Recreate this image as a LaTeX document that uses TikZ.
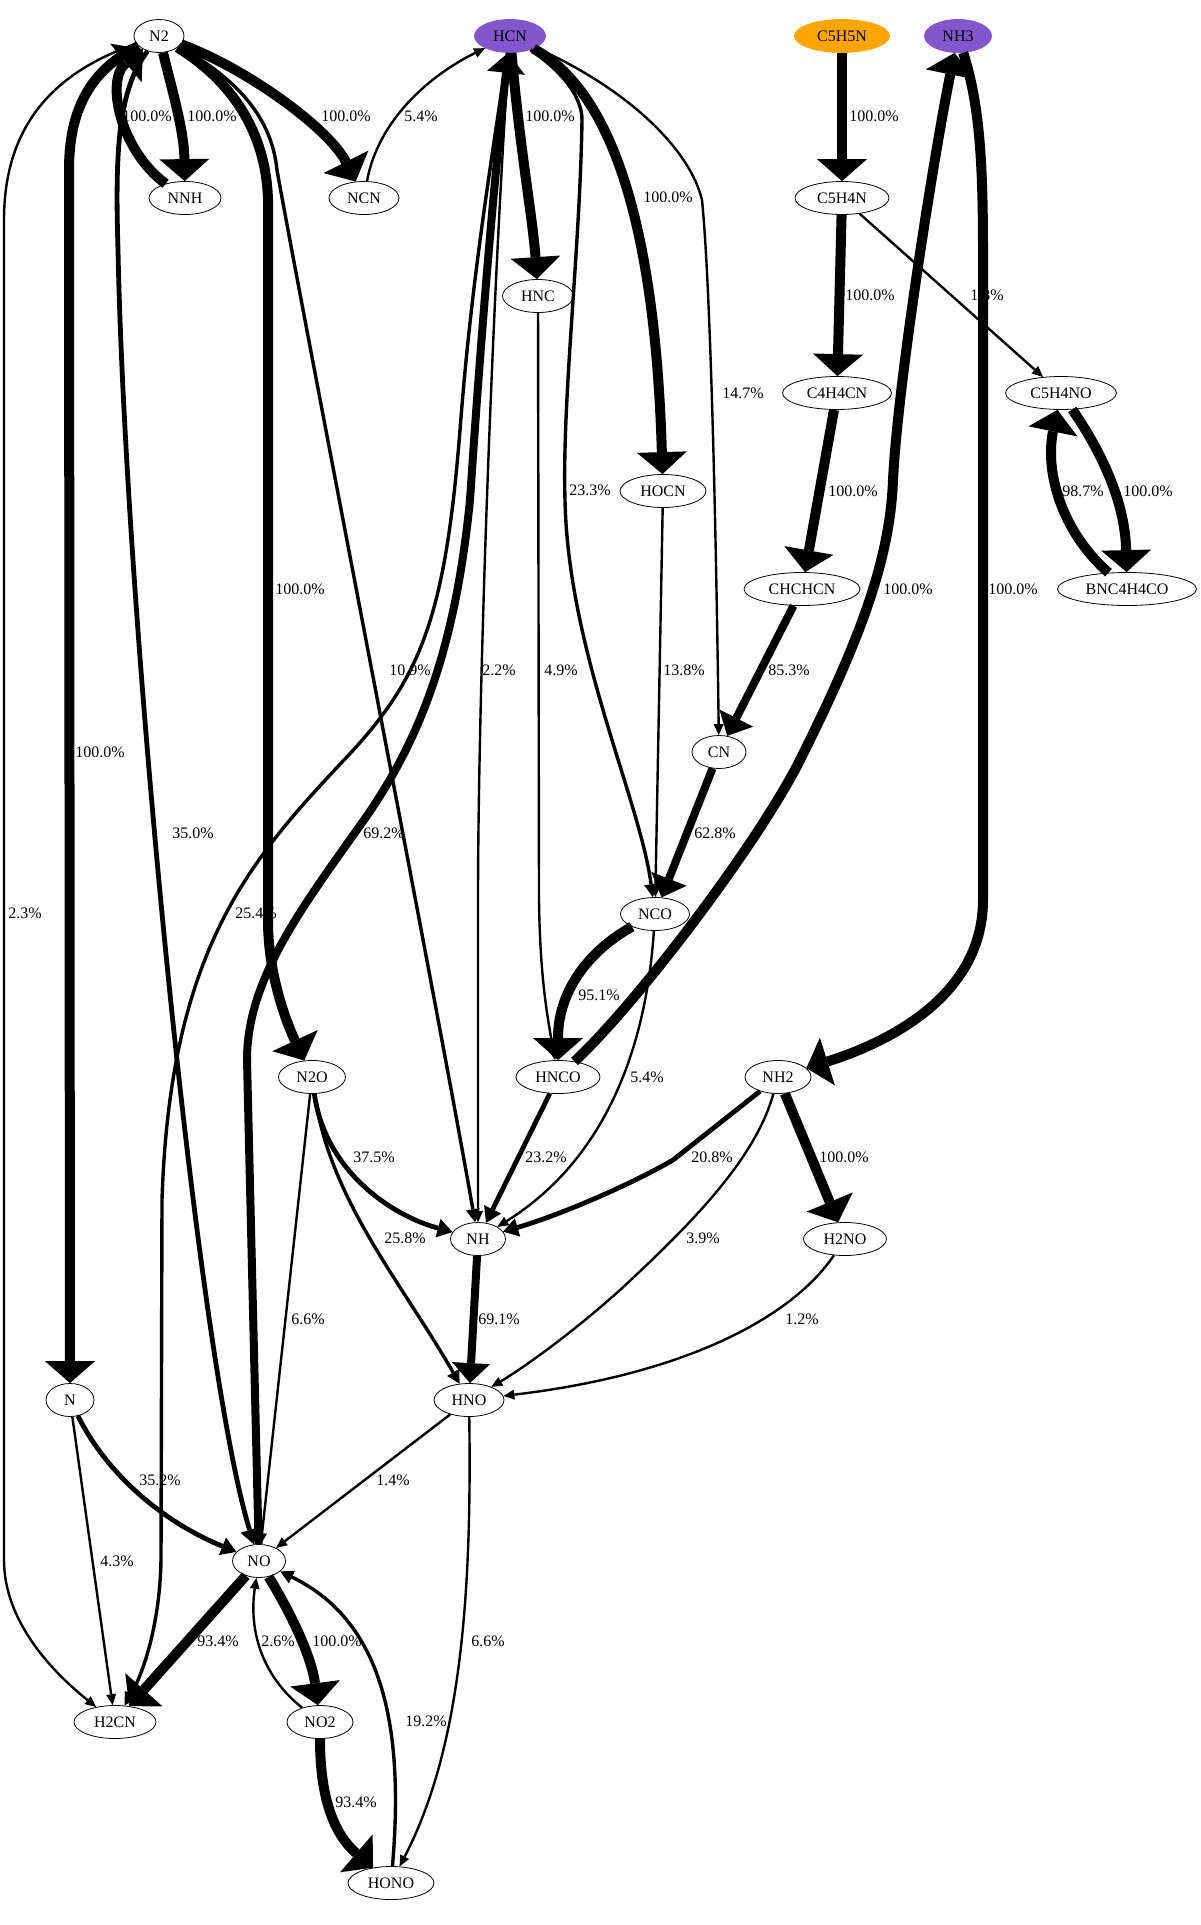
\documentclass[tikz,border=0pt]{standalone}
\usepackage{fontspec}
\setmainfont{Liberation Serif}
\usetikzlibrary{arrows.meta,shapes.geometric}
\definecolor{hpurple}{RGB}{131,86,204}
\definecolor{horange}{RGB}{255,165,0}
\begin{document}
\begin{tikzpicture}[x=1pt,y=-1pt,
  sp/.style={ellipse, draw, line width=0.8pt, inner sep=0pt, minimum height=33pt, font=\fontsize{16}{18}\selectfont},
  lab/.style={inner sep=0pt, font=\fontsize{16}{18}\selectfont},
  wA/.style={line width=2.4pt, -{Triangle[length=11pt,width=10pt,line width=0pt]}},
  wB/.style={line width=3.4pt, -{Triangle[length=13pt,width=14pt,line width=0pt]}},
  wC/.style={line width=4.8pt, -{Triangle[length=15pt,width=19pt,line width=0pt]}},
  wD/.style={line width=8pt, -{Triangle[length=20pt,width=38pt,line width=0pt]}},
  wE/.style={line width=10pt, -{Triangle[length=22pt,width=50pt,line width=0pt]}}
]
\useasboundingbox (0,0) rectangle (1200,1925);
% nodes
\node[sp, minimum width=50pt] (N2) at (159,36) {N2};
\node[sp, fill=hpurple, draw=hpurple, minimum width=71pt] (HCN) at (510,36) {HCN};
\node[sp, fill=horange, draw=horange, minimum width=95pt] (C5H5N) at (842,36) {C5H5N};
\node[sp, fill=hpurple, draw=hpurple, minimum width=67pt] (NH3) at (958,36) {NH3};
\node[sp, minimum width=72pt] (NNH) at (185,198) {NNH};
\node[sp, minimum width=70pt] (NCN) at (364,198) {NCN};
\node[sp, minimum width=94pt] (C5H4N) at (842,198) {C5H4N};
\node[sp, minimum width=71pt] (HNC) at (538,296) {HNC};
\node[sp, minimum width=109pt] (C4H4CN) at (837,393) {C4H4CN};
\node[sp, minimum width=111pt] (C5H4NO) at (1061,393) {C5H4NO};
\node[sp, minimum width=86pt] (HOCN) at (663,491) {HOCN};
\node[sp, minimum width=116pt] (CHCHCN) at (802,589) {CHCHCN};
\node[sp, minimum width=139pt] (BNC4H4CO) at (1127,589) {BNC4H4CO};
\node[sp, minimum width=54pt] (CN) at (719,752) {CN};
\node[sp, minimum width=69pt] (NCO) at (655,914) {NCO};
\node[sp, minimum width=67pt] (N2O) at (312,1077) {N2O};
\node[sp, minimum width=84pt] (HNCO) at (558,1077) {HNCO};
\node[sp, minimum width=66pt] (NH2) at (778,1077) {NH2};
\node[sp, minimum width=55pt] (NH) at (478,1239) {NH};
\node[sp, minimum width=83pt] (H2NO) at (845,1239) {H2NO};
\node[sp, minimum width=48pt] (N) at (70,1400) {N};
\node[sp, minimum width=70pt] (HNO) at (469,1400) {HNO};
\node[sp, minimum width=53pt] (NO) at (259,1561) {NO};
\node[sp, minimum width=82pt] (H2CN) at (115,1722) {H2CN};
\node[sp, minimum width=66pt] (NO2) at (320,1722) {NO2};
\node[sp, minimum width=86pt] (HONO) at (391,1883) {HONO};
% edges
\draw[wE] (N2) .. controls (172,90) and (184,130) .. (NNH);
\draw[wE] (NNH) .. controls (120,150) and (105,80) .. (N2);
\draw[wE] (N2) .. controls (250,70) and (330,130) .. (NCN);
\draw[wA] (NCN) .. controls (378,120) and (430,75) .. (HCN);
\draw[wE] (HCN) .. controls (520,150) and (533,220) .. (HNC);
\draw[wE] (HCN) .. controls (610,90) and (655,220) .. (HOCN);
\draw[wA] (HCN) .. controls (630,90) and (690,150) .. (702,200) .. controls (712,300) and (717,600) .. (CN);
\draw[wB] (HCN) .. controls (560,70) and (582,95) .. (582,120) .. controls (580,250) and (562,400) .. (565,500) .. controls (568,650) and (640,800) .. (NCO);
\draw[wE] (C5H5N) -- (C5H4N);
\draw[wE] (C5H4N) -- (C4H4CN);
\draw[wA] (C5H4N) -- (C5H4NO);
\draw[wE] (C4H4CN) -- (CHCHCN);
\draw[wD] (CHCHCN) -- (CN);
\draw[wE] (C5H4NO) .. controls (1100,450) and (1125,500) .. (BNC4H4CO);
\draw[wE] (BNC4H4CO) .. controls (1060,530) and (1045,470) .. (C5H4NO);
\draw[wE] (HNCO) .. controls (640,1000) and (760,840) .. (800,760) .. controls (860,640) and (890,560) .. (893,480) .. controls (898,380) and (935,150) .. (NH3);
\draw[wE] (NH3) .. controls (978,100) and (983,150) .. (983,250) -- (983,900) .. controls (983,1000) and (880,1045) .. (NH2);
\draw[wA] (HOCN) -- (NCO);
\draw[wD] (CN) -- (NCO);
\draw[wE] (NCO) .. controls (590,950) and (558,990) .. (HNCO);
\draw[wA] (NCO) .. controls (648,1020) and (620,1150) .. (NH);
\draw[wA] (HNC) -- (539,900) .. controls (540,980) and (548,1020) .. (HNCO);
\draw[wA] (HCN) .. controls (492,300) and (478,700) .. (478,900) -- (NH);
\draw[wB] (N2) .. controls (240,80) and (272,120) .. (277,170) .. controls (300,300) and (440,1020) .. (NH);
\draw[wC] (N2) .. controls (118,90) and (115,150) .. (118,250) .. controls (125,600) and (195,1350) .. (NO);
\draw[wE] (N2) .. controls (90,70) and (69,110) .. (69,170) -- (N);
\draw[wA] (N2) .. controls (60,70) and (4,120) .. (4,220) -- (4,1560) .. controls (4,1620) and (50,1670) .. (H2CN);
\draw[wB] (HCN) .. controls (485,200) and (470,300) .. (460,430) .. controls (445,620) and (420,680) .. (344,760) .. controls (250,860) and (170,950) .. (162,1200) -- (161,1560) .. controls (160,1620) and (145,1670) .. (H2CN);
\draw[wD] (NO) -- (247,1060) .. controls (247,980) and (300,910) .. (364,820) .. controls (420,740) and (455,650) .. (470,500) .. controls (480,350) and (492,200) .. (HCN);
\draw[wE] (N2) .. controls (230,80) and (266,130) .. (268,200) -- (268,920) .. controls (268,980) and (290,1030) .. (N2O);
\draw[wC] (N2O) .. controls (325,1170) and (390,1215) .. (NH);
\draw[wB] (N2O) .. controls (330,1200) and (400,1280) .. (HNO);
\draw[wA] (N2O) -- (NO);
\draw[wC] (HNCO) -- (NH);
\draw[wC] (NH2) -- (673,1160) .. controls (630,1185) and (560,1215) .. (NH);
\draw[wA] (NH2) .. controls (755,1160) and (690,1225) .. (620,1290) .. controls (570,1335) and (520,1370) .. (HNO);
\draw[wE] (NH2) -- (H2NO);
\draw[wA] (H2NO) .. controls (790,1320) and (680,1375) .. (HNO);
\draw[wD] (NH) -- (HNO);
\draw[wA] (HNO) -- (NO);
\draw[wA] (HNO) .. controls (472,1600) and (460,1750) .. (HONO);
\draw[wC] (N) .. controls (110,1480) and (170,1525) .. (NO);
\draw[wA] (N) -- (H2CN);
\draw[wE] (NO) -- (H2CN);
\draw[wA] (NO2) .. controls (255,1670) and (250,1620) .. (NO);
\draw[wE] (NO) .. controls (295,1620) and (312,1660) .. (NO2);
\draw[wE] (NO2) .. controls (320,1800) and (335,1835) .. (HONO);
\draw[wB] (HONO) .. controls (405,1720) and (380,1620) .. (NO);
% labels
\node[lab] (l1) at (212,116) {100.0\%};
\node[lab] (l2) at (147,116) {100.0\%};
\node[lab] (l3) at (346,116) {100.0\%};
\node[lab] (l4) at (421,116) {5.4\%};
\node[lab] (l5) at (550,116) {100.0\%};
\node[lab] (l6) at (668,197) {100.0\%};
\node[lab] (l7) at (743,393) {14.7\%};
\node[lab] (l8) at (590,490) {23.3\%};
\node[lab] (l9) at (874,116) {100.0\%};
\node[lab] (l10) at (870,295) {100.0\%};
\node[lab] (l11) at (987,295) {1.3\%};
\node[lab] (l12) at (853,491) {100.0\%};
\node[lab] (l13) at (789,670) {85.3\%};
\node[lab] (l14) at (1148,491) {100.0\%};
\node[lab] (l15) at (1083,491) {98.7\%};
\node[lab] (l16) at (908,589) {100.0\%};
\node[lab] (l17) at (1013,589) {100.0\%};
\node[lab] (l18) at (684,670) {13.8\%};
\node[lab] (l19) at (715,833) {62.8\%};
\node[lab] (l20) at (599,995) {95.1\%};
\node[lab] (l21) at (647,1077) {5.4\%};
\node[lab] (l22) at (561,670) {4.9\%};
\node[lab] (l23) at (499,670) {2.2\%};
\node[lab] (l24) at (410,670) {10.9\%};
\node[lab] (l25) at (193,833) {35.0\%};
\node[lab] (l26) at (100,752) {100.0\%};
\node[lab] (l27) at (25,913) {2.3\%};
\node[lab] (l28) at (256,913) {25.4\%};
\node[lab] (l29) at (384,833) {69.2\%};
\node[lab] (l30) at (300,589) {100.0\%};
\node[lab] (l31) at (374,1157) {37.5\%};
\node[lab] (l32) at (405,1238) {25.8\%};
\node[lab] (l33) at (308,1319) {6.6\%};
\node[lab] (l34) at (546,1157) {23.2\%};
\node[lab] (l35) at (712,1157) {20.8\%};
\node[lab] (l36) at (703,1238) {3.9\%};
\node[lab] (l37) at (844,1157) {100.0\%};
\node[lab] (l38) at (802,1319) {1.2\%};
\node[lab] (l39) at (499,1319) {69.1\%};
\node[lab] (l40) at (393,1480) {1.4\%};
\node[lab] (l41) at (488,1641) {6.6\%};
\node[lab] (l42) at (160,1480) {35.2\%};
\node[lab] (l43) at (117,1561) {4.3\%};
\node[lab] (l44) at (218,1641) {93.4\%};
\node[lab] (l45) at (278,1641) {2.6\%};
\node[lab] (l46) at (337,1641) {100.0\%};
\node[lab] (l47) at (356,1802) {93.4\%};
\node[lab] (l48) at (426,1721) {19.2\%};
\end{tikzpicture}
\end{document}
